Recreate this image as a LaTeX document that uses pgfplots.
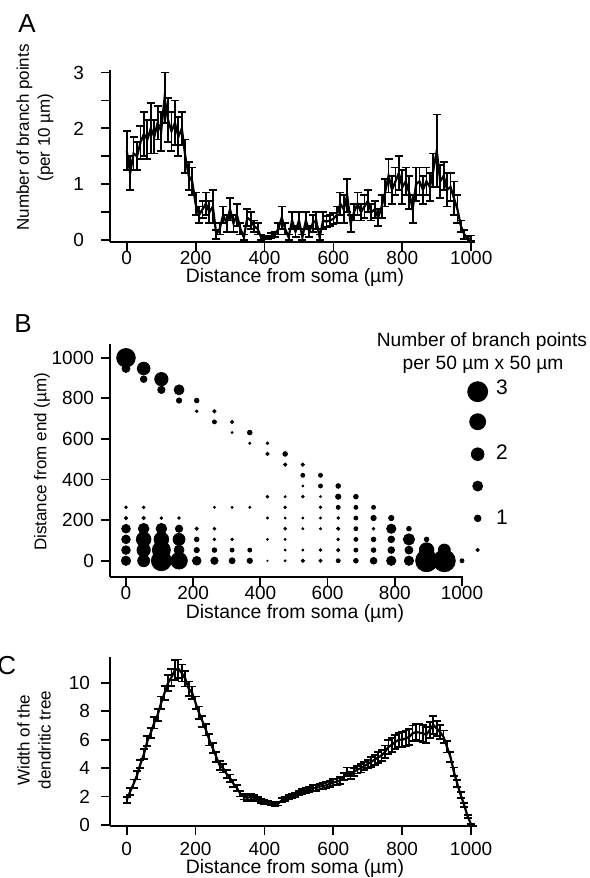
\documentclass[border=0pt]{standalone}
\usepackage{fontspec}
\setmainfont{Liberation Sans}
\usepackage{pgfplots}
\pgfplotsset{compat=1.18}
\pgfplotsset{
  igor/.style={
    scale only axis, anchor=south west,
    axis x line*=bottom, axis y line*=left,
    axis line style={line width=1pt, -},
    tick style={line width=0.9pt, black},
    tick align=outside,
    major tick length=4.5pt, minor tick length=4.5pt,
    tick label style={font=\fontsize{9.5}{11}\selectfont},
    /pgf/number format/assume math mode=true,
    /pgf/number format/1000 sep={},
    xtick={0,200,...,1000},
    clip=false,
  },
  ebar/.style={black, line width=1.1pt, mark=none,
    error bars/.cd, y dir=both, y explicit,
    error bar style={line width=0.9pt},
    error mark options={rotate=90, mark size=2pt, line width=0.9pt}},
}
\newcommand{\lab}{\fontsize{8.5}{10.5}\selectfont}
\newcommand{\xlab}{\fontsize{9.7}{11}\selectfont}
\begin{document}
\begin{tikzpicture}
\clip (0,0) rectangle (294.5pt,439pt);

% ---------------- A ----------------
\begin{axis}[igor, at={(55pt,318.15pt)}, width=182.5pt, height=85.95pt,
  xmin=-48.5, xmax=1011, ymin=-0.03, ymax=3.05,
  ytick={0,1,2,3}, minor ytick={0.5,1.5,2.5},
  xticklabel style={yshift=3.5pt}, yticklabel style={xshift=-5pt}]
\addplot[ebar] table[x=x, y=y, y error=e] {
x y e
0 1.60 0.35
10 1.20 0.30
20 1.55 0.30
30 1.50 0.25
40 1.75 0.30
50 1.90 0.40
60 1.80 0.35
70 2.00 0.45
80 1.85 0.30
90 2.10 0.30
100 1.95 0.35
110 2.55 0.45
120 2.15 0.40
130 1.95 0.35
140 2.10 0.40
150 1.85 0.35
160 2.00 0.30
170 1.50 0.30
180 1.15 0.25
190 1.05 0.25
200 0.65 0.20
210 0.45 0.15
220 0.55 0.15
230 0.65 0.20
240 0.50 0.20
250 0.60 0.30
260 0.10 0.08
270 0.20 0.10
280 0.45 0.15
290 0.30 0.15
300 0.55 0.20
310 0.30 0.15
320 0.45 0.20
330 0.20 0.10
340 0.05 0.05
350 0.40 0.15
360 0.35 0.15
370 0.25 0.10
380 0.20 0.10
390 0.05 0.05
400 0.05 0.03
410 0.05 0.03
420 0.08 0.05
430 0.10 0.05
440 0.20 0.10
450 0.40 0.20
460 0.20 0.10
470 0.05 0.05
480 0.35 0.15
490 0.15 0.10
500 0.35 0.15
510 0.05 0.05
520 0.35 0.15
530 0.15 0.10
540 0.30 0.15
550 0.35 0.15
560 0.05 0.05
570 0.35 0.15
580 0.33 0.10
590 0.35 0.10
600 0.38 0.10
610 0.45 0.15
620 0.65 0.20
630 0.55 0.25
640 0.80 0.30
650 0.30 0.15
660 0.50 0.15
670 0.65 0.20
680 0.50 0.15
690 0.60 0.20
700 0.70 0.20
710 0.50 0.15
720 0.55 0.15
730 0.40 0.15
740 0.60 0.20
750 0.85 0.25
760 1.15 0.30
770 0.90 0.25
780 1.05 0.25
790 1.20 0.30
800 0.95 0.30
810 1.05 0.25
820 0.85 0.30
830 0.55 0.25
840 1.00 0.30
850 1.05 0.25
860 0.90 0.25
870 1.05 0.25
880 0.95 0.25
890 1.25 0.30
900 1.60 0.65
910 1.05 0.30
920 1.15 0.25
930 0.90 0.30
940 0.95 0.25
950 0.75 0.30
960 0.55 0.25
970 0.25 0.10
980 0.10 0.08
990 0.02 0.05
1000 0.03 0.05
};
\end{axis}

% ---------------- B ----------------
\begin{axis}[igor, at={(55pt,150.5pt)}, width=176.5pt, height=116.5pt,
  xmin=-47.6, xmax=1003, ymin=-80, ymax=1068,
  ytick={0,200,...,1000}, xticklabel style={yshift=3.5pt}]
\addplot[scatter, only marks, mark=*, point meta=explicit,
  scatter/use mapped color={draw=black, fill=black},
  visualization depends on={1.667*\thisrow{v} \as \ms},
  scatter/@pre marker code/.append style={/tikz/mark size=\ms}]
  table[x=x, y=y, meta=v] {
x y v
0 1000 2.8
0 947.4 1.2
0 0 1.4
0 52.6 1.3
0 105.3 1.3
0 157.9 1.3
0 210.5 0.5
0 263.2 0.4
52.6 947.4 1.9
52.6 894.7 1.0
52.6 0 1.8
52.6 52.6 2.0
52.6 105.3 2.2
52.6 157.9 1.6
52.6 210.5 0.5
52.6 263.2 0.4
105.3 894.7 2.0
105.3 842.1 1.1
105.3 0 3.0
105.3 52.6 2.7
105.3 105.3 2.2
105.3 157.9 1.6
105.3 210.5 0.4
157.9 842.1 1.5
157.9 789.5 0.8
157.9 0 2.5
157.9 52.6 1.5
157.9 105.3 1.8
157.9 157.9 1.1
157.9 210.5 0.4
210.5 789.5 0.7
210.5 736.8 0.4
210.5 0 1.3
210.5 52.6 0.8
210.5 105.3 0.7
210.5 157.9 0.5
263.2 736.8 0.5
263.2 684.2 0.6
263.2 0 1.1
263.2 52.6 0.7
263.2 105.3 0.4
263.2 157.9 0.4
263.2 263.2 0.3
315.8 684.2 0.5
315.8 631.6 0.3
315.8 0 0.9
315.8 52.6 0.6
315.8 105.3 0.4
315.8 263.2 0.3
368.4 631.6 0.7
368.4 578.9 0.3
368.4 0 0.8
368.4 52.6 0.6
368.4 263.2 0.3
421.1 578.9 0.4
421.1 526.3 0.5
421.1 315.8 0.4
421.1 210.5 0.3
421.1 105.3 0.3
421.1 0 0.2
473.7 526.3 0.7
473.7 473.7 0.5
473.7 315.8 0.3
473.7 263.2 0.4
473.7 210.5 0.3
473.7 157.9 0.4
473.7 105.3 0.3
473.7 52.6 0.3
473.7 0 0.3
526.3 473.7 0.5
526.3 421.1 0.6
526.3 368.4 0.3
526.3 315.8 0.4
526.3 210.5 0.3
526.3 157.9 0.3
526.3 52.6 0.3
526.3 0 0.5
578.9 421.1 0.6
578.9 368.4 0.6
578.9 315.8 0.3
578.9 263.2 0.4
578.9 210.5 0.3
578.9 157.9 0.3
578.9 52.6 0.4
578.9 0 0.5
631.6 368.4 0.7
631.6 315.8 0.8
631.6 263.2 0.6
631.6 210.5 0.4
631.6 157.9 0.5
631.6 105.3 0.4
631.6 52.6 0.5
631.6 0 0.6
684.2 315.8 0.7
684.2 263.2 0.6
684.2 210.5 0.6
684.2 157.9 0.6
684.2 105.3 0.6
684.2 52.6 0.6
684.2 0 0.7
736.8 263.2 0.6
736.8 210.5 0.8
736.8 157.9 0.4
736.8 105.3 0.7
736.8 52.6 0.7
736.8 0 1.0
789.5 210.5 0.8
789.5 157.9 1.4
789.5 105.3 1.0
789.5 52.6 1.0
789.5 0 1.4
842.1 157.9 0.7
842.1 105.3 1.7
842.1 52.6 1.2
842.1 0 1.4
894.7 105.3 0.7
894.7 52.6 2.2
894.7 0 3.3
947.4 52.6 1.8
947.4 0 3.3
1000 0 0.6
};
% size legend
\addplot[scatter, only marks, mark=*, point meta=explicit,
  scatter/use mapped color={draw=black, fill=black},
  visualization depends on={1.667*\thisrow{v} \as \ms},
  scatter/@pre marker code/.append style={/tikz/mark size=\ms}]
  table[x=x, y=y, meta=v] {
x y v
1046.7 833 3.0
1046.7 685 2.4
1046.7 525 1.9
1046.7 368 1.5
1046.7 209 1.0
1046.7 53 0.5
};
\end{axis}

% ---------------- C ----------------
\begin{axis}[igor, at={(55pt,26pt)}, width=183.3pt, height=84.65pt,
  xmin=-48.5, xmax=1016, ymin=-0.07, ymax=11.85,
  ytick={0,2,...,10}, yticklabel style={xshift=-2pt}]
\addplot[ebar] table[x=x, y=y, y error=e] {
x y e
0 1.76 0.20
10 2.35 0.25
20 2.90 0.30
30 3.50 0.30
40 4.30 0.30
50 5.00 0.35
60 5.90 0.35
70 6.50 0.35
80 7.20 0.40
90 7.75 0.40
100 8.60 0.45
110 9.30 0.50
120 10.00 0.55
130 10.40 0.60
140 10.90 0.70
150 11.00 0.65
160 10.70 0.60
170 10.30 0.55
180 9.60 0.50
190 9.30 0.45
200 8.60 0.45
210 7.90 0.45
220 7.30 0.40
230 6.70 0.40
240 6.00 0.40
250 5.40 0.35
260 4.80 0.35
270 4.20 0.30
280 4.00 0.30
290 3.60 0.30
300 3.30 0.25
310 2.90 0.25
320 2.60 0.20
330 2.20 0.20
340 2.00 0.20
350 1.90 0.20
360 2.00 0.20
370 1.90 0.20
380 1.80 0.15
390 1.70 0.15
400 1.65 0.15
410 1.57 0.12
420 1.53 0.12
430 1.48 0.12
440 1.50 0.12
450 1.75 0.15
460 1.85 0.15
470 1.95 0.15
480 2.05 0.15
490 2.10 0.15
500 2.25 0.15
510 2.35 0.18
520 2.45 0.18
530 2.50 0.18
540 2.60 0.20
550 2.60 0.20
560 2.70 0.20
570 2.75 0.20
580 2.80 0.20
590 2.90 0.22
600 3.00 0.22
610 3.05 0.22
620 3.15 0.25
630 3.40 0.25
640 3.75 0.30
650 3.50 0.25
660 3.75 0.28
670 3.90 0.28
680 4.00 0.30
690 4.15 0.30
700 4.30 0.30
710 4.45 0.35
720 4.60 0.35
730 4.75 0.40
740 4.90 0.40
750 5.15 0.45
760 5.50 0.50
770 5.65 0.50
780 5.85 0.50
790 6.00 0.50
800 6.00 0.55
810 6.10 0.55
820 6.20 0.55
830 6.45 0.55
840 6.55 0.55
850 6.50 0.60
860 6.45 0.60
870 6.35 0.55
880 6.70 0.55
890 7.05 0.65
900 6.80 0.55
910 6.55 0.50
920 6.20 0.45
930 5.50 0.40
940 4.80 0.35
950 3.75 0.30
960 2.90 0.25
970 2.10 0.20
980 1.40 0.15
990 0.60 0.10
1000 0.05 0.05
};
\end{axis}

% ---------------- texts ----------------
\node[anchor=base west, inner sep=0pt, font=\fontsize{13}{14}\selectfont] at (9pt,422.5pt) {A};
\node[anchor=base west, inner sep=0pt, font=\fontsize{13}{14}\selectfont] at (7pt,272.5pt) {B};
\node[anchor=base west, inner sep=0pt, font=\fontsize{13}{14}\selectfont] at (-1.5pt,101.5pt) {C};

\node[font=\xlab, inner sep=0pt] at (147.5pt,300.5pt) {Distance from soma (µm)};
\node[font=\xlab, inner sep=0pt] at (147.5pt,132.5pt) {Distance from soma (µm)};
\node[font=\xlab, inner sep=0pt] at (147.5pt,5pt) {Distance from soma (µm)};

\node[font=\lab, rotate=90, align=center, inner sep=0pt] at (17.5pt,370.25pt) {Number of branch points\\(per 10 µm)};
\node[font=\lab, rotate=90, inner sep=0pt] at (21pt,208pt) {Distance from end (µm)};
\node[font=\lab, rotate=90, align=center, inner sep=0pt] at (17pt,69pt) {Width of the\\dendritic tree};

\node[font=\fontsize{9.6}{11}\selectfont, inner sep=0pt] at (241pt,268pt) {Number of branch points};
\node[font=\fontsize{9.6}{11}\selectfont, inner sep=0pt] at (241.5pt,256.5pt) {per 50 µm x 50 µm};
\node[font=\fontsize{10.5}{12}\selectfont, inner sep=0pt] at (251pt,245.25pt) {3};
\node[font=\fontsize{10.5}{12}\selectfont, inner sep=0pt] at (251pt,212.75pt) {2};
\node[font=\fontsize{10.5}{12}\selectfont, inner sep=0pt] at (251pt,180.25pt) {1};
\end{tikzpicture}
\end{document}
